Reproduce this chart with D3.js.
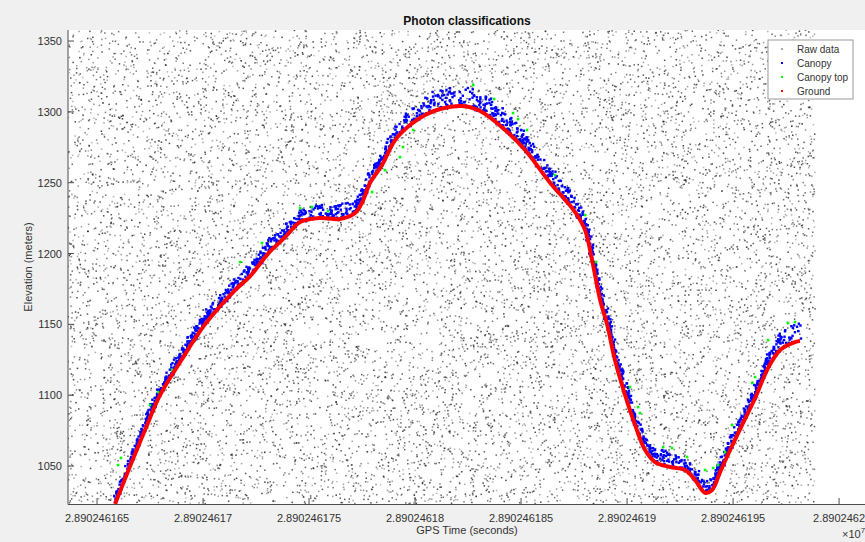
<!DOCTYPE html>
<html>
<head>
<meta charset="utf-8">
<script src="https://cdn.jsdelivr.net/npm/d3@7"></script>
<style>
  body { margin: 0; background: #f0f0f0; }
  svg { display: block; font-family: "Liberation Sans", Arial, sans-serif; }
</style>
</head>
<body>
<svg id="chart" width="865" height="542"></svg>
<script>
// Photon classifications - ground / canopy profile
// times are offsets in seconds from 28902461.6 (axis shown x10^7)

const xTicks = [0.05, 0.10, 0.15, 0.20, 0.25, 0.30, 0.35, 0.40];
const xTickLabels = ['2.890246165', '2.89024617', '2.890246175', '2.89024618',
    '2.890246185', '2.89024619', '2.890246195', '2.8902462'];
const yTicks = [1050, 1100, 1150, 1200, 1250, 1300, 1350];

// ground surface (red)
const groundT = [0.0585, 0.0656, 0.0726, 0.0797, 0.0892, 0.1009, 0.1151, 0.1222, 0.1307, 0.1387,
    0.1458, 0.1552, 0.1646, 0.1717, 0.1750, 0.1788, 0.1844, 0.1906, 0.1976, 0.2047,
    0.2118, 0.2222, 0.2307, 0.2425, 0.2519, 0.2637, 0.2755, 0.2802, 0.2835, 0.2873,
    0.2906, 0.2943, 0.2991, 0.3038, 0.3085, 0.3132, 0.3203, 0.3274, 0.3321, 0.3368,
    0.3401, 0.3439, 0.3486, 0.3542, 0.3604, 0.3665, 0.3722, 0.3792, 0.3816];
const groundZ = [1023.2, 1050.0, 1075.4, 1100.0, 1123.4, 1150.0, 1174.2, 1184.1, 1200.0, 1211.6,
    1222.2, 1225.1, 1224.4, 1228.6, 1236.0, 1250.0, 1262.5, 1280.1, 1290.7, 1297.8,
    1302.0, 1304.1, 1300.6, 1287.2, 1273.1, 1250.0, 1229.3, 1216.6, 1195.4, 1167.2,
    1150.0, 1124.8, 1100.0, 1078.9, 1061.3, 1052.8, 1049.3, 1047.2, 1040.1, 1031.1,
    1033.1, 1045.8, 1061.3, 1078.9, 1098.0, 1119.2, 1131.9, 1137.5, 1138.2];
// canopy thickness above ground (m) at each ground sample (blue)
const canopyDepth = [5, 6, 7, 7, 8, 8, 8, 8, 8, 8,
    9, 10, 10, 9, 8, 8, 8, 9, 10, 12,
    13, 14, 14, 13, 12, 11, 10, 10, 10, 10,
    10, 10, 10, 10, 9, 9, 9, 8, 8, 8,
    8, 8, 8, 8, 8, 9, 11, 12, 12];

// canopy top photons (green)
const topT = [0.0599, 0.0613, 0.0750, 0.0788, 0.0854, 0.0962, 0.1104, 0.1175, 0.1278, 0.1458,
    0.1514, 0.1590, 0.1797, 0.1858, 0.1929, 0.1943, 0.1991, 0.2274, 0.2373, 0.2462,
    0.2486, 0.2528, 0.2660, 0.2802, 0.2854, 0.3014, 0.3052, 0.3061, 0.3170, 0.3212,
    0.3283, 0.3368, 0.3406, 0.3429, 0.3462, 0.3495, 0.3590, 0.3604, 0.3665, 0.3759, 0.3792];
const topZ = [1050.7, 1055.7, 1093.1, 1102.2, 1117.8, 1138.9, 1167.2, 1194.0, 1207.4, 1232.1,
    1232.8, 1230.0, 1243.4, 1258.9, 1268.1, 1275.2, 1287.2, 1318.9, 1309.1, 1299.2,
    1294.9, 1287.2, 1255.4, 1227.2, 1194.0, 1105.8, 1091.6, 1087.4, 1063.4, 1062.7,
    1056.4, 1047.2, 1048.6, 1050.7, 1059.9, 1078.9, 1108.6, 1112.8, 1138.9, 1150.9, 1151.6];

// raw photon cloud: extent and count (background noise)
const rawExtentT = [0.0363, 0.3887];
const rawCount = 12500;
const canopyCount = 1900;

const svg = d3.select('#chart');
const margin = { left: 68, top: 30, right: 866, bottom: 504 };

const x = d3.scaleLinear().domain([0.0363, 0.4127]).range([margin.left, margin.right]);
const y = d3.scaleLinear().domain([1023.2, 1357.8]).range([margin.bottom, margin.top]);

// seeded generator so the noise is the same every run
function mulberry32(a) {
    return function() {
        a |= 0; a = a + 0x6D2B79F5 | 0;
        let t = Math.imul(a ^ a >>> 15, 1 | a);
        t = t + Math.imul(t ^ t >>> 7, 61 | t) ^ t;
        return ((t ^ t >>> 14) >>> 0) / 4294967296;
    };
}
const rnd = mulberry32(20240611);

// axes background
svg.append('rect')
    .attr('x', margin.left).attr('y', margin.top)
    .attr('width', margin.right - margin.left).attr('height', margin.bottom - margin.top)
    .attr('fill', '#fff');

svg.append('clipPath').attr('id', 'clip')
    .append('rect')
    .attr('x', margin.left).attr('y', margin.top)
    .attr('width', margin.right - margin.left).attr('height', margin.bottom - margin.top);

const plot = svg.append('g').attr('clip-path', 'url(#clip)');

// raw data
const raw = d3.range(rawCount).map(() => ({
    t: rawExtentT[0] + rnd() * (rawExtentT[1] - rawExtentT[0]),
    z: y.domain()[0] + rnd() * (y.domain()[1] - y.domain()[0]),
    o: 0.3 + rnd() * 0.55
}));
plot.append('g').selectAll('rect')
    .data(raw)
    .join('rect')
    .attr('x', d => x(d.t) - 0.75)
    .attr('y', d => y(d.z) - 0.75)
    .attr('width', 1.5)
    .attr('height', 1.5)
    .attr('fill', '#222')
    .attr('opacity', d => d.o);

// canopy: spread along the ground profile by arc length
const gpts = groundT.map((t, i) => ({ px: x(t), py: y(groundZ[i]), depth: canopyDepth[i] }));
const cum = [0];
for (let i = 1; i < gpts.length; i++) {
    cum.push(cum[i - 1] + Math.hypot(gpts[i].px - gpts[i - 1].px, gpts[i].py - gpts[i - 1].py));
}
const total = cum[cum.length - 1];
const canopy = d3.range(canopyCount).map(() => {
    const s = rnd() * total;
    let i = d3.bisectRight(cum, s) - 1;
    i = Math.max(0, Math.min(i, gpts.length - 2));
    const f = (s - cum[i]) / (cum[i + 1] - cum[i]);
    const px = gpts[i].px + f * (gpts[i + 1].px - gpts[i].px);
    const py = gpts[i].py + f * (gpts[i + 1].py - gpts[i].py);
    const depth = gpts[i].depth + f * (gpts[i + 1].depth - gpts[i].depth);
    const h = Math.pow(rnd(), 1.3) * depth;
    return { px: px + (rnd() - 0.5) * 3, py: py - (y(0) - y(h)) + (rnd() - 0.7) * 3 };
});
plot.append('g').selectAll('rect')
    .data(canopy)
    .join('rect')
    .attr('x', d => d.px - 1.2)
    .attr('y', d => d.py - 1.2)
    .attr('width', 2.4)
    .attr('height', 2.4)
    .attr('fill', '#0000ff');

// canopy top
plot.append('g').selectAll('rect')
    .data(topT)
    .join('rect')
    .attr('x', (d, i) => x(d) - 1.3)
    .attr('y', (d, i) => y(topZ[i]) - 1.3)
    .attr('width', 2.6)
    .attr('height', 2.6)
    .attr('fill', '#00ff00');

// ground
const line = d3.line()
    .x((d, i) => x(d))
    .y((d, i) => y(groundZ[i]))
    .curve(d3.curveCatmullRom);
plot.append('path')
    .datum(groundT)
    .attr('d', line)
    .attr('fill', 'none')
    .attr('stroke', '#ff0000')
    .attr('stroke-width', 4)
    .attr('stroke-linejoin', 'round');

// axes lines
const axisColor = '#4d4d4d';
svg.append('line')
    .attr('x1', margin.left).attr('x2', margin.left)
    .attr('y1', margin.top).attr('y2', margin.bottom + 0.5)
    .attr('stroke', axisColor);
svg.append('line')
    .attr('x1', margin.left).attr('x2', 865)
    .attr('y1', margin.bottom + 0.5).attr('y2', margin.bottom + 0.5)
    .attr('stroke', axisColor);

// ticks (inward, matlab style)
svg.append('g').selectAll('line')
    .data(xTicks)
    .join('line')
    .attr('x1', d => x(d)).attr('x2', d => x(d))
    .attr('y1', margin.bottom).attr('y2', margin.bottom - 6)
    .attr('stroke', axisColor);
svg.append('g').selectAll('line')
    .data(yTicks)
    .join('line')
    .attr('x1', margin.left).attr('x2', margin.left + 6)
    .attr('y1', d => y(d)).attr('y2', d => y(d))
    .attr('stroke', axisColor);

const textColor = '#333';
svg.append('g').selectAll('text')
    .data(xTicks)
    .join('text')
    .attr('x', d => x(d))
    .attr('y', 522)
    .attr('text-anchor', 'middle')
    .attr('font-size', 11)
    .attr('fill', textColor)
    .text((d, i) => xTickLabels[i]);
svg.append('g').selectAll('text')
    .data(yTicks)
    .join('text')
    .attr('x', 62)
    .attr('y', d => y(d) + 4)
    .attr('text-anchor', 'end')
    .attr('font-size', 11)
    .attr('fill', textColor)
    .text(d => d);

// exponent
const expo = svg.append('text')
    .attr('x', 842).attr('y', 538)
    .attr('font-size', 11)
    .attr('fill', textColor);
expo.append('tspan').text('\u00d710');
expo.append('tspan').attr('dy', -5).attr('font-size', 8).text('7');

// labels
svg.append('text')
    .attr('x', 467).attr('y', 534)
    .attr('text-anchor', 'middle')
    .attr('font-size', 11)
    .attr('fill', textColor)
    .text('GPS Time (seconds)');
svg.append('text')
    .attr('transform', 'translate(32,267) rotate(-90)')
    .attr('text-anchor', 'middle')
    .attr('font-size', 11)
    .attr('fill', textColor)
    .text('Elevation (meters)');
svg.append('text')
    .attr('x', 467).attr('y', 25)
    .attr('text-anchor', 'middle')
    .attr('font-size', 12)
    .attr('font-weight', 'bold')
    .attr('fill', '#111')
    .text('Photon classifications');

// legend
const legendItems = [
    { name: 'Raw data', color: '#aaaaaa' },
    { name: 'Canopy', color: '#0000ff' },
    { name: 'Canopy top', color: '#00ff00' },
    { name: 'Ground', color: '#ff0000' }
];
const legend = svg.append('g').attr('transform', 'translate(768,40)');
legend.append('rect')
    .attr('width', 85).attr('height', 59)
    .attr('fill', '#fff')
    .attr('stroke', '#999');
const entry = legend.selectAll('g')
    .data(legendItems)
    .join('g')
    .attr('transform', (d, i) => `translate(0,${9 + i * 14})`);
entry.append('rect')
    .attr('x', 13).attr('y', -1)
    .attr('width', 2).attr('height', 2)
    .attr('fill', d => d.color);
entry.append('text')
    .attr('x', 29).attr('y', 3.5)
    .attr('font-size', 10)
    .attr('fill', textColor)
    .text(d => d.name);
</script>
</body>
</html>
